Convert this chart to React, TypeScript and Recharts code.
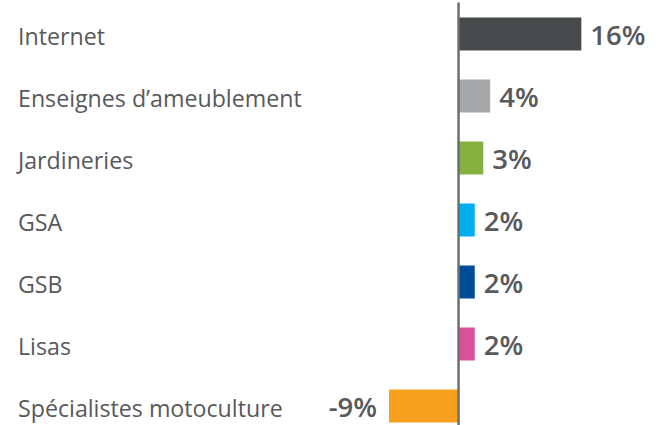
import React from 'react';
import { BarChart, Bar, XAxis, YAxis, Cell, LabelList, ReferenceLine } from 'recharts';

const categories = [
  'Internet',
  'Enseignes d’ameublement',
  'Jardineries',
  'GSA',
  'GSB',
  'Lisas',
  'Spécialistes motoculture',
];
const values = [15.9, 4.1, 3.2, 2.1, 2.1, 2.1, -9.0];
const valueLabels = ['16%', '4%', '3%', '2%', '2%', '2%', '-9%'];
const colors = ['#484b4c', '#a7a8aa', '#86b03f', '#00adee', '#004c97', '#d9519d', '#f79f1f'];

const data = categories.map((name, i) => ({ name, value: values[i], label: valueLabels[i] }));

const textColor = '#58595b';
const font = '"Open Sans", sans-serif';

const CategoryTick = (props: any) => {
  const { y, payload } = props;
  return (
    <text x={18} y={y} dy={11.5} textAnchor="start" fill={textColor} fontSize={23.2} fontFamily={font}>
      {payload.value}
    </text>
  );
};

const ValueLabel = (props: any) => {
  const { x, y, width, height, index, value } = props;
  const left = Math.min(x, x + width);
  const right = Math.max(x, x + width);
  const negative = values[index] < 0;
  const tx = negative ? left - 12 : right + 9;
  return (
    <text
      x={tx}
      y={y + height / 2}
      dy={11}
      textAnchor={negative ? 'end' : 'start'}
      fill={textColor}
      fontSize={27.5}
      fontWeight={600}
      fontFamily={font}
    >
      {value}
    </text>
  );
};

const App: React.FC = () => {
  return (
    <div style={{ position: 'fixed', left: 0, top: 0, width: 659, height: 425, overflow: 'hidden', background: '#fff' }}>
      <BarChart
        width={659}
        height={438}
        data={data}
        layout="vertical"
        margin={{ top: 2.5, right: 46, bottom: 1.5, left: 0 }}
      >
        <XAxis type="number" domain={[-10, 20]} hide />
        <YAxis
          type="category"
          dataKey="name"
          width={381.3}
          axisLine={false}
          tickLine={false}
          tick={<CategoryTick />}
          interval={0}
        />
        <Bar dataKey="value" barSize={33} isAnimationActive={false}>
          {data.map((d, i) => (
            <Cell key={d.name} fill={colors[i]} />
          ))}
          <LabelList dataKey="label" content={<ValueLabel />} />
        </Bar>
        <ReferenceLine x={0} stroke="#6d6e70" strokeWidth={2.5} />
      </BarChart>
    </div>
  );
};

export default App;
